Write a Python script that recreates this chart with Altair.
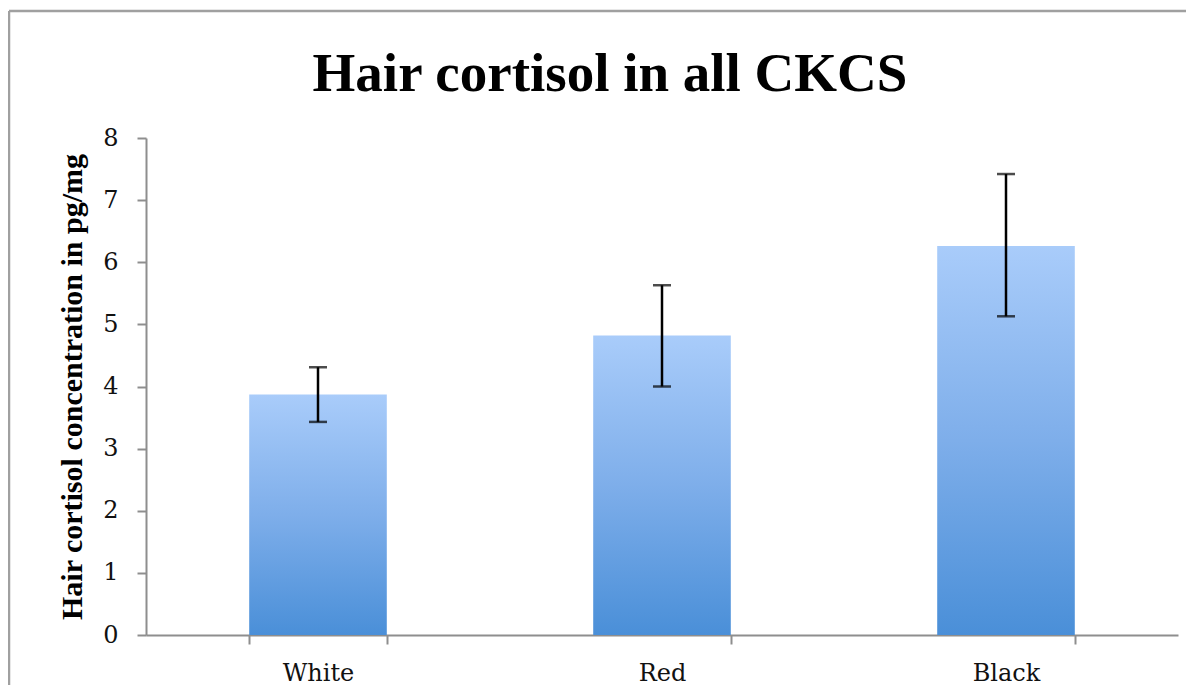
import altair as alt
import pandas as pd

categories = ["White", "Red", "Black"]
means = [3.87, 4.82, 6.26]
err_low = [3.43, 4.00, 5.13]
err_high = [4.31, 5.63, 7.42]
y_ticks = [0, 1, 2, 3, 4, 5, 6, 7, 8]

df = pd.DataFrame({"cat": categories, "mean": means, "lo": err_low, "hi": err_high})

W, H = 1032, 497
AXIS_GRAY = "#8e8e8e"
FRAME_GRAY = "#a0a0a0"

xenc = alt.X("cat:N", sort=categories,
             scale=alt.Scale(paddingInner=0.6, paddingOuter=0.3),
             axis=alt.Axis(title=None, labelAngle=0, tickBand="extent", grid=False,
                           labelFont="DejaVu Serif", labelFontSize=24,
                           labelColor="#111111", labelPadding=17,
                           domainColor=AXIS_GRAY, domainWidth=2,
                           tickColor=AXIS_GRAY, tickWidth=2, tickSize=9))

yscale = alt.Scale(domain=[0, 8], nice=False)

gradient = alt.LinearGradient(
    gradient="linear", x1=0, y1=0, x2=0, y2=1,
    stops=[alt.GradientStop(color="#a9ccfa", offset=0),
           alt.GradientStop(color="#7eaeea", offset=0.5),
           alt.GradientStop(color="#4a8fd8", offset=1)])

base = alt.Chart(df)

bars = base.mark_bar(color=gradient).encode(
    x=xenc,
    y=alt.Y("mean:Q", scale=yscale,
            axis=alt.Axis(title="Hair cortisol concentration in pg/mg",
                          values=y_ticks, format="d", grid=False,
                          labelFont="DejaVu Serif", labelFontSize=24,
                          labelColor="#111111", labelPadding=19,
                          domainColor=AXIS_GRAY, domainWidth=2,
                          tickColor=AXIS_GRAY, tickWidth=2, tickSize=9,
                          titleFont="Liberation Serif", titleFontWeight="bold",
                          titleFontSize=30, titleColor="#000000", titlePadding=15)),
)

rules = base.mark_rule(color="#000000", strokeWidth=2.5).encode(
    x=alt.X("cat:N", sort=categories), y=alt.Y("lo:Q", scale=yscale), y2="hi:Q")
cap_hi = base.mark_tick(color="#000000", size=18, thickness=2.5).encode(
    x=alt.X("cat:N", sort=categories), y=alt.Y("hi:Q", scale=yscale))
cap_lo = base.mark_tick(color="#000000", size=18, thickness=2.5).encode(
    x=alt.X("cat:N", sort=categories), y=alt.Y("lo:Q", scale=yscale))

one = pd.DataFrame({"k": [0]})
frame_left = alt.Chart(one).mark_rule(color=FRAME_GRAY, strokeWidth=2.5).encode(
    x=alt.value(-137), y=alt.value(-127), y2=alt.value(H + 80))
frame_top = alt.Chart(one).mark_rule(color=FRAME_GRAY, strokeWidth=2.5).encode(
    x=alt.value(-137), x2=alt.value(W + 40), y=alt.value(-127))

chart = alt.layer(frame_left, frame_top, bars, rules, cap_hi, cap_lo).properties(
    width=W, height=H,
    autosize="none",
    padding={"left": 138, "top": 130, "right": 8, "bottom": 50},
    view=alt.ViewBackground(stroke="transparent", strokeWidth=0),
    title=alt.TitleParams("Hair cortisol in all CKCS", font="Liberation Serif",
                          fontSize=55, fontWeight="bold", color="#000000",
                          anchor="middle", frame="group", dx=-52, offset=0, dy=136,
                          baseline="alphabetic"),
).configure_view(stroke="transparent", strokeWidth=0).configure(background="white")

chart.save("out.html", embed_options={"renderer": "svg", "actions": False})
